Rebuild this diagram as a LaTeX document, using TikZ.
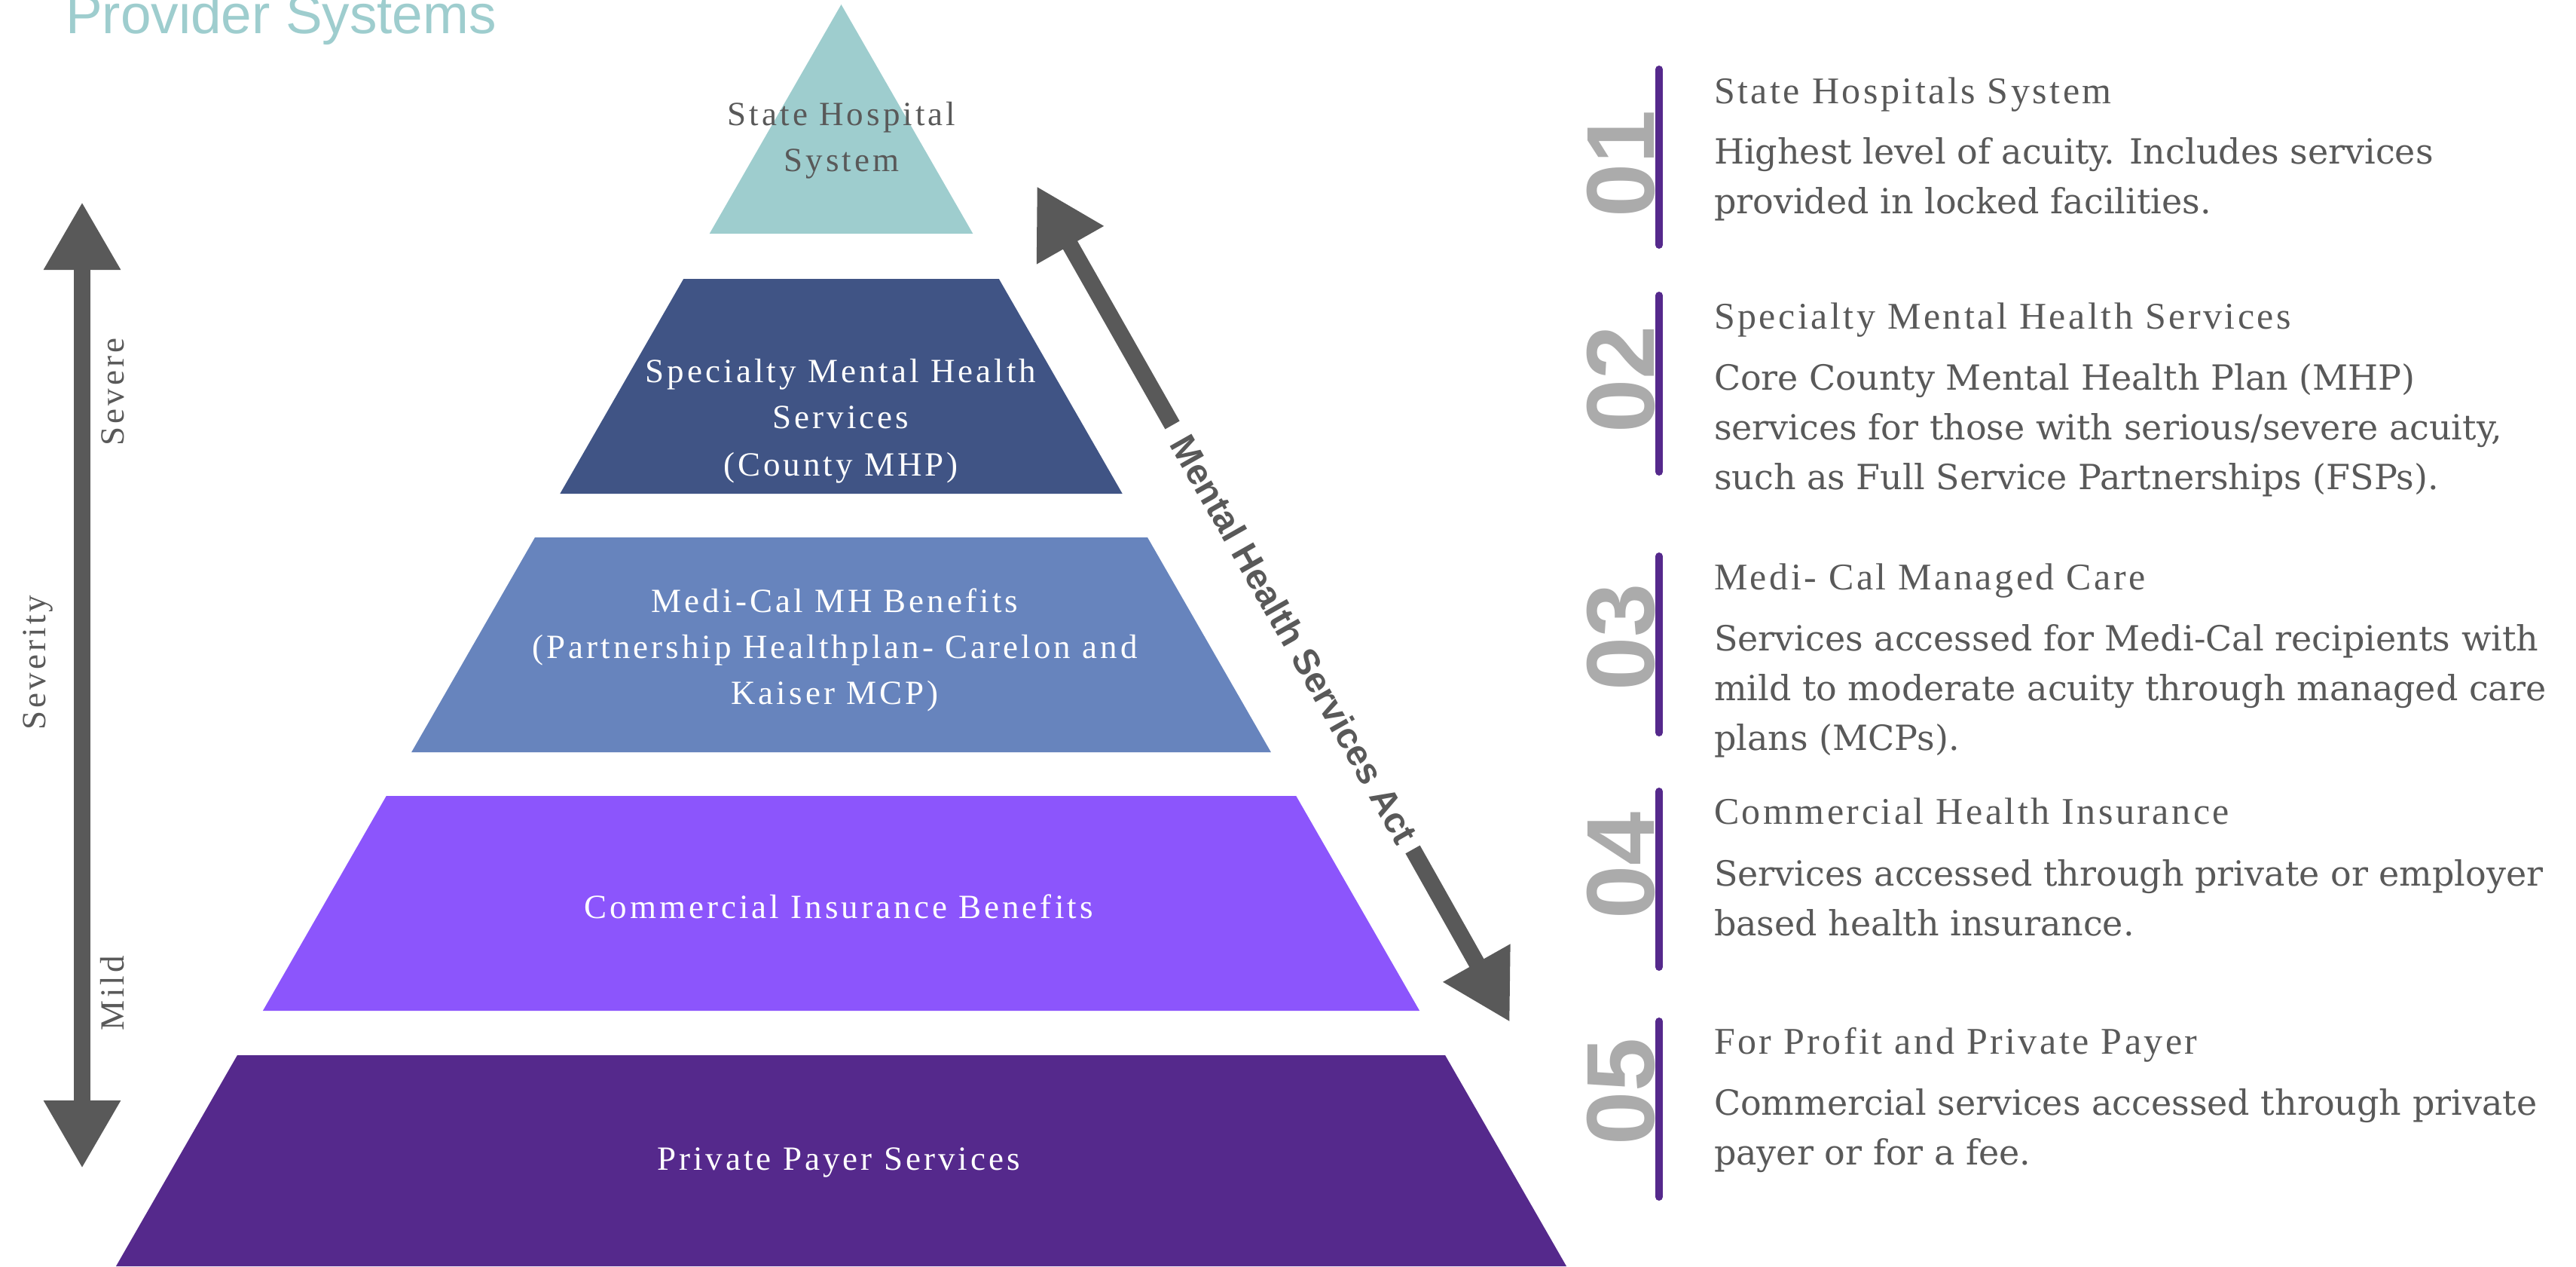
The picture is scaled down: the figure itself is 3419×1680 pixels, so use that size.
\documentclass[tikz,border=0pt]{standalone}
\usepackage{fontspec}
\setmainfont{Liberation Serif}
\newfontfamily\labfont[LetterSpace=9]{Liberation Serif}
\newfontfamily\titfont[LetterSpace=7]{Liberation Serif}
\newfontfamily\bodyfont{DejaVu Serif}
\newfontfamily\sansfont{Liberation Sans}
\usetikzlibrary{arrows.meta}
\definecolor{teal1}{HTML}{9ECDCE}
\definecolor{blue2}{HTML}{405485}
\definecolor{blue3}{HTML}{6784BD}
\definecolor{purp4}{HTML}{8C55FC}
\definecolor{purp5}{HTML}{55298C}
\definecolor{dgray}{HTML}{595959}
\definecolor{lgray}{HTML}{ABABAB}
\begin{document}
\begin{tikzpicture}[x=0.2pt,y=-0.2pt,
  >={Triangle[length=18pt,width=19.2pt]},
  lab/.style={inner sep=0pt, anchor=base, font=\labfont\fontsize{9pt}{11pt}\selectfont},
  whitelab/.style={lab, text=white},
  graylab/.style={lab, text=dgray},
  sidelab/.style={graylab, rotate=90},
  rtitle/.style={inner sep=0pt, anchor=base west, text=dgray, font=\titfont\fontsize{10pt}{12pt}\selectfont},
  body/.style={inner sep=0pt, anchor=base west, text=dgray, font=\bodyfont\fontsize{9.2pt}{11pt}\selectfont},
  num/.style={inner sep=0pt, anchor=base, rotate=90, text=lgray, font=\sansfont\bfseries\fontsize{25.6pt}{30pt}\selectfont},
  vbar/.style={draw=purp5, line width=2pt, line cap=round},
  bigarrow/.style={draw=dgray, line width=4.4pt},
  mhsa/.style={inner sep=0pt, text=dgray, font=\sansfont\bfseries\fontsize{9.6pt}{11pt}\selectfont}
]
\useasboundingbox (0,0) rectangle (3419,1680);

% title
\node[anchor=base west, inner sep=0pt, text=teal1, font=\sansfont\fontsize{14.6pt}{16pt}\selectfont] (title) at (86,44) {Provider Systems};

% pyramid
\fill[teal1] (1116.5,6) -- (1291.3,310) -- (941.7,310) -- cycle;
\fill[blue2] (907.2,370) -- (1325.8,370) -- (1489.7,655) -- (743.3,655) -- cycle;
\fill[blue3] (710.0,713) -- (1523.0,713) -- (1686.9,998) -- (546.1,998) -- cycle;
\fill[purp4] (512.75,1056) -- (1720.25,1056) -- (1884.1,1341) -- (348.9,1341) -- cycle;
\fill[purp5] (314.95,1400) -- (1918.05,1400) -- (2079.05,1680) -- (153.95,1680) -- cycle;

% pyramid labels
\node[graylab] (l1a) at (1117,166) {State Hospital};
\node[graylab] (l1b) at (1117,227) {System};
\node[whitelab] (l2a) at (1116,507) {Specialty Mental Health};
\node[whitelab] (l2b) at (1116,568) {Services};
\node[whitelab] (l2c) at (1116,631) {(County MHP)};
\node[whitelab] (l3a) at (1108,812) {Medi-Cal MH Benefits};
\node[whitelab] (l3b) at (1108,873) {(Partnership Healthplan- Carelon and};
\node[whitelab] (l3c) at (1108,934) {Kaiser MCP)};
\node[whitelab] (l4) at (1113,1218) {Commercial Insurance Benefits};
\node[whitelab] (l5) at (1113,1552) {Private Payer Services};

% severity arrow
\coordinate (sevtop) at (109,268);
\coordinate (sevbot) at (109,1550);
\draw[bigarrow, <->] (sevbot) -- (sevtop);
\node[sidelab] (severe) at (164,520) {Severe};
\node[sidelab] (mild) at (164,1318) {Mild};
\node[sidelab] (severity) at (60,879) {Severity};

% MHSA arrow
\coordinate (mtop) at (1376,247);
\coordinate (mup) at (1556,564);
\coordinate (mlow) at (1875,1127);
\coordinate (mbot) at (2004,1356);
\draw[bigarrow, ->] (mup) -- (mtop);
\draw[bigarrow, ->] (mlow) -- (mbot);
\node[mhsa, rotate=-60.47] (mhsatext) at (1718,848) {Mental Health Services Act};

% right list
\draw[vbar] (2202,92) -- (2202,325);
\draw[vbar] (2202,392) -- (2202,626);
\draw[vbar] (2202,738) -- (2202,972);
\draw[vbar] (2202,1050) -- (2202,1283);
\draw[vbar] (2202,1355) -- (2202,1588);

\node[num] (n1) at (2195,217) {01};
\node[num] (n2) at (2195,503) {02};
\node[num] (n3) at (2195,845) {03};
\node[num] (n4) at (2195,1148) {04};
\node[num] (n5) at (2195,1448) {05};

\node[rtitle] (t1) at (2274,137) {State Hospitals System};
\node[body] (b1a) at (2274,217) {Highest level of acuity. Includes services};
\node[body] (b1b) at (2274,283) {provided in locked facilities.};

\node[rtitle] (t2) at (2274,436) {Specialty Mental Health Services};
\node[body] (b2a) at (2274,517) {Core County Mental Health Plan (MHP)};
\node[body] (b2b) at (2274,583) {services for those with serious/severe acuity,};
\node[body] (b2c) at (2274,649) {such as Full Service Partnerships (FSPs).};

\node[rtitle] (t3) at (2274,782) {Medi- Cal Managed Care};
\node[body] (b3a) at (2274,863) {Services accessed for Medi-Cal recipients with};
\node[body] (b3b) at (2274,929) {mild to moderate acuity through managed care};
\node[body] (b3c) at (2274,995) {plans (MCPs).};

\node[rtitle] (t4) at (2274,1093) {Commercial Health Insurance};
\node[body] (b4a) at (2274,1175) {Services accessed through private or employer};
\node[body] (b4b) at (2274,1241) {based health insurance.};

\node[rtitle] (t5) at (2274,1398) {For Profit and Private Payer};
\node[body] (b5a) at (2274,1479) {Commercial services accessed through private};
\node[body] (b5b) at (2274,1545) {payer or for a fee.};
\end{tikzpicture}
\end{document}
